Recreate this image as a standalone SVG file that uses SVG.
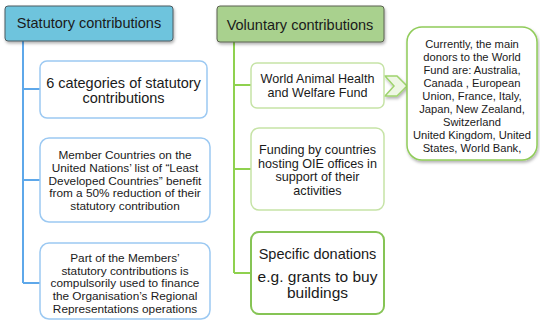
<svg xmlns="http://www.w3.org/2000/svg" width="540" height="320" viewBox="0 0 540 320">
<defs>
<filter id="sh" x="-10%" y="-20%" width="130%" height="160%">
<feDropShadow dx="1" dy="2" stdDeviation="1.5" flood-color="#000" flood-opacity="0.3"/>
</filter>
</defs>
<style>
text{font-family:"Liberation Sans",Arial,sans-serif;fill:#1a1a1a;text-anchor:middle}
.hdr{font-size:14.5px}
.bbox{fill:#fff;stroke:#9cc9f2;stroke-width:1.5}
.gbox{fill:#fff;stroke:#c6e3a6;stroke-width:1.5}
.blue{stroke:#5ea8ea;stroke-width:2;fill:none}
.green{stroke:#8fd14f;stroke-width:2;fill:none}
</style>
<rect width="540" height="320" fill="#fff"/>
<g id="connectors">
<path class="blue" d="M23 41V283M23 89H40M23 180H40M23 283H40"/>
<path class="green" d="M234 42V273M234 85H251M234 169H251M234 273H251"/>
<polygon id="chevron" points="385,76 397,76 407,86 397,96 385,96 394,86" fill="#eef7e4" stroke="#9ed36c" stroke-width="1.5" filter="url(#sh)"/>
</g>
<g id="statutory">
<rect x="5" y="6" width="168" height="35" rx="3" fill="#6ec4dd" stroke="#4d5a60" stroke-width="1" filter="url(#sh)"/>
<text class="hdr" x="89" y="28">Statutory contributions</text>
</g>
<g id="voluntary">
<rect x="217" y="6" width="167" height="36" rx="3" fill="#a9d18e" stroke="#5a6150" stroke-width="1" filter="url(#sh)"/>
<text class="hdr" x="300" y="30">Voluntary contributions</text>
</g>
<g id="categories">
<rect class="bbox" x="40" y="61" width="167" height="57" rx="7"/>
<text font-size="14.5" x="123.5" y="88">6 categories of statutory</text>
<text font-size="14.5" x="123.5" y="102.5">contributions</text>
</g>
<g id="ldc">
<rect class="bbox" x="40" y="138" width="170" height="84" rx="9"/>
<text font-size="11.8" x="125" y="159.2">Member Countries on the</text>
<text font-size="11.8" x="125" y="171.9">United Nations’ list of “Least</text>
<text font-size="11.8" x="125" y="184.6">Developed Countries” benefit</text>
<text font-size="11.8" x="125" y="197.3">from a 50% reduction of their</text>
<text font-size="11.8" x="125" y="210">statutory contribution</text>
</g>
<g id="regional">
<rect class="bbox" x="40" y="243" width="170" height="76" rx="9"/>
<text font-size="11.8" x="125" y="262">Part of the Members’</text>
<text font-size="11.8" x="125" y="274.6">statutory contributions is</text>
<text font-size="11.8" x="125" y="287.3">compulsorily used to finance</text>
<text font-size="11.8" x="125" y="300">the Organisation’s Regional</text>
<text font-size="11.8" x="125" y="312.6">Representations operations</text>
</g>
<g id="wahwf">
<rect class="gbox" x="251" y="63" width="133" height="45" rx="6"/>
<text font-size="12.6" x="317.5" y="83">World Animal Health</text>
<text font-size="12.6" x="317.5" y="96.8">and Welfare Fund</text>
</g>
<g id="hosting">
<rect class="gbox" x="251" y="128" width="133" height="82" rx="8"/>
<text font-size="12.6" x="317.5" y="154">Funding by countries</text>
<text font-size="12.6" x="317.5" y="167.6">hosting OIE offices in</text>
<text font-size="12.6" x="317.5" y="181.2">support of their</text>
<text font-size="12.6" x="317.5" y="194.8">activities</text>
</g>
<g id="specific">
<rect x="251" y="232" width="133" height="82" rx="8" fill="#fff" stroke="#86c455" stroke-width="2"/>
<text font-size="14.5" x="317.5" y="259">Specific donations</text>
<text font-size="15.5" x="317.5" y="282">e.g. grants to buy</text>
<text font-size="15.5" x="317.5" y="298">buildings</text>
</g>
<g id="donors">
<rect x="407" y="27" width="130" height="133" rx="15" fill="#fff" stroke="#90cc5a" stroke-width="1.5" filter="url(#sh)"/>
<text font-size="11.2" x="472" y="48">Currently, the main</text>
<text font-size="11.2" x="472" y="61">donors to the World</text>
<text font-size="11.2" x="472" y="74">Fund are: Australia,</text>
<text font-size="11.2" x="472" y="87">Canada , European</text>
<text font-size="11.2" x="472" y="100">Union, France, Italy,</text>
<text font-size="11.2" x="472" y="113">Japan, New Zealand,</text>
<text font-size="11.2" x="472" y="126">Switzerland</text>
<text font-size="11.2" x="472" y="139">United Kingdom, United</text>
<text font-size="11.2" x="472" y="152">States, World Bank,</text>
</g>
</svg>
